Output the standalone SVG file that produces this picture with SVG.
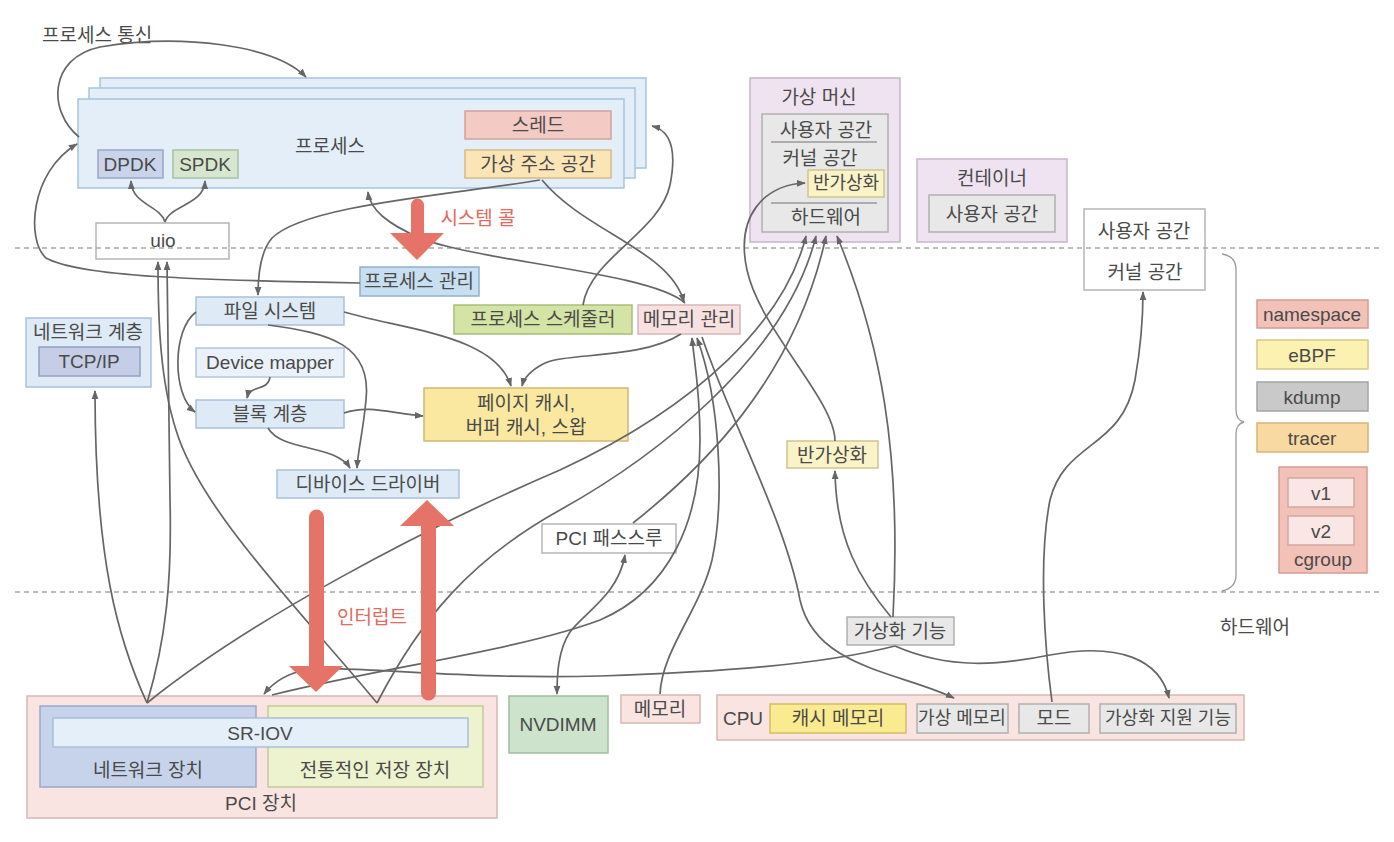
<svg xmlns="http://www.w3.org/2000/svg" width="1394" height="842" viewBox="0 0 1394 842">
<defs>
<style>
.t{font-family:"Liberation Sans","Noto Sans CJK KR",sans-serif;font-size:19px;fill:#4a4a4a;text-anchor:middle;dominant-baseline:central}
.s{font-size:18px}
.red{fill:#e57367}
rect{stroke-width:1.5}
.proc{fill:#e3eef9;stroke:#a8c4dc}
.blue{fill:#deebf7;stroke:#a9c1d8}
.blue2{fill:#c8dff1;stroke:#8fb0cc}
.lblue{fill:#eaf1f9;stroke:#b3c7da}
.pink{fill:#f9e4e1;stroke:#d6b8b3}
.grey{fill:#e8e8e8;stroke:#b0b0b0}
.purple{fill:#f0e3f1;stroke:#c9b5cc}
.white{fill:#fff;stroke:#b5b5b5}
.dash{stroke:#a8a8a8;stroke-width:1.6;stroke-dasharray:5 4;fill:none}
.c path{fill:none;stroke:#666;stroke-width:1.7;marker-end:url(#ah)}
.c path.both{marker-start:url(#ah)}
</style>
<marker id="ah" viewBox="0 0 10 10" refX="9" refY="5" markerWidth="9" markerHeight="9" orient="auto-start-reverse" markerUnits="userSpaceOnUse">
<path d="M0,1.2 L10,5 L0,8.8 z" fill="#666"/>
</marker>
</defs>
<rect width="1394" height="842" fill="#fff" stroke="none"/>

<text class="t" x="42" y="35" style="text-anchor:start">프로세스 통신</text>

<g id="process">
<rect class="proc" x="100" y="78" width="546" height="90"/>
<rect class="proc" x="89" y="88" width="546" height="90"/>
<rect class="proc" x="78" y="99" width="546" height="89"/>
<text class="t" x="330" y="146">프로세스</text>
</g>
<g id="thread"><rect x="465" y="111" width="146" height="28" fill="#f3cbc4" stroke="#cfa39c"/><text class="t" x="538" y="125">스레드</text></g>
<g id="vaddr"><rect x="465" y="150" width="146" height="28" fill="#fbe5b7" stroke="#d4bb86"/><text class="t" x="538" y="164">가상 주소 공간</text></g>
<g id="dpdk"><rect x="98" y="150" width="65" height="28" fill="#c9d3ea" stroke="#9aa7c6"/><text class="t" x="130" y="164">DPDK</text></g>
<g id="spdk"><rect x="173" y="150" width="65" height="28" fill="#d6e6cf" stroke="#a8c1a0"/><text class="t" x="205" y="164">SPDK</text></g>
<g id="uio"><rect class="white" x="96" y="223" width="133" height="36"/><text class="t" x="163" y="240">uio</text></g>

<g id="procmgmt"><rect class="blue2" x="360" y="267" width="119" height="29"/><text class="t" x="419" y="281">프로세스 관리</text></g>
<g id="fs"><rect class="blue" x="196" y="297" width="148" height="28"/><text class="t" x="270" y="311">파일 시스템</text></g>
<g id="netlayer"><rect class="blue" x="26" y="318" width="125" height="69"/><text class="t" x="88" y="332">네트워크 계층</text>
<rect x="39" y="347" width="101" height="29" fill="#c6cde6" stroke="#949fc2"/><text class="t" x="89" y="361">TCP/IP</text></g>
<g id="devmapper"><rect class="lblue" x="196" y="348" width="148" height="29"/><text class="t" x="270" y="362">Device mapper</text></g>
<g id="block"><rect class="blue" x="196" y="400" width="148" height="28"/><text class="t" x="270" y="414">블록 계층</text></g>
<g id="pagecache"><rect x="424" y="388" width="204" height="53" fill="#fbe8a0" stroke="#cdb977"/><text class="t" x="526" y="403">페이지 캐시,</text><text class="t" x="526" y="427">버퍼 캐시, 스왑</text></g>
<g id="devdriver"><rect class="blue" x="277" y="470" width="182" height="28"/><text class="t" x="368" y="484">디바이스 드라이버</text></g>
<g id="scheduler"><rect x="454" y="305" width="178" height="29" fill="#d4e4a4" stroke="#a9bd79"/><text class="t" x="543" y="319">프로세스 스케줄러</text></g>
<g id="memmgmt"><rect x="638" y="305" width="102" height="29" fill="#f8e1e1" stroke="#d6b6b6"/><text class="t" x="689" y="319">메모리 관리</text></g>
<g id="pcipass"><rect class="white" x="542" y="524" width="134" height="29"/><text class="t" x="609" y="538">PCI 패스스루</text></g>
<g id="paravirt"><rect x="787" y="441" width="91" height="27" fill="#fbf3c8" stroke="#cfc48f"/><text class="t" x="832" y="455">반가상화</text></g>
<g id="virtfeat"><rect class="grey" x="847" y="617" width="107" height="28"/><text class="t" x="900" y="631">가상화 기능</text></g>

<g id="vm">
<rect class="purple" x="750" y="78" width="150" height="164"/>
<text class="t" x="819" y="97">가상 머신</text>
<rect class="grey" x="762" y="114" width="126" height="118"/>
<text class="t" x="826" y="130">사용자 공간</text>
<line x1="771" y1="142" x2="877" y2="142" stroke="#9a9a9a" stroke-width="1.3"/>
<text class="t" x="820" y="158">커널 공간</text>
<rect x="808" y="170" width="76" height="27" fill="#fbf3c8" stroke="#cfc48f"/>
<text class="t s" x="846" y="183">반가상화</text>
<line x1="771" y1="203" x2="877" y2="203" stroke="#9a9a9a" stroke-width="1.3"/>
<text class="t" x="826" y="217">하드웨어</text>
</g>
<g id="container">
<rect class="purple" x="917" y="159" width="150" height="83"/>
<text class="t" x="992" y="178">컨테이너</text>
<rect class="grey" x="929" y="195" width="126" height="37"/>
<text class="t" x="992" y="214">사용자 공간</text>
</g>
<g id="userkernel">
<rect x="1084" y="209" width="121" height="81" fill="none" stroke="#b5b5b5"/>
<text class="t" x="1144" y="231">사용자 공간</text>
<text class="t" x="1145" y="272">커널 공간</text>
</g>

<g id="legend">
<rect x="1257" y="300" width="111" height="28" fill="#f2c2b9" stroke="#d29d94"/><text class="t" x="1312" y="314">namespace</text>
<rect x="1257" y="340" width="111" height="29" fill="#fbf1b1" stroke="#d4c88a"/><text class="t" x="1312" y="355">eBPF</text>
<rect x="1257" y="382" width="111" height="29" fill="#c9c9c9" stroke="#a4a4a4"/><text class="t" x="1312" y="397">kdump</text>
<rect x="1257" y="423" width="111" height="29" fill="#f8d9a1" stroke="#d3b57a"/><text class="t" x="1312" y="438">tracer</text>
</g>
<g id="cgroup">
<rect x="1279" y="467" width="88" height="106" fill="#f2c2b9" stroke="#d29d94"/>
<rect x="1288" y="478" width="66" height="29" fill="#f9e6e5" stroke="#cfa8a2"/><text class="t" x="1321" y="493">v1</text>
<rect x="1288" y="516" width="66" height="29" fill="#f9e6e5" stroke="#cfa8a2"/><text class="t" x="1321" y="531">v2</text>
<text class="t" x="1323" y="559">cgroup</text>
</g>

<g id="pcidev">
<rect class="pink" x="27" y="696" width="470" height="122"/>
<rect x="40" y="706" width="216" height="81" fill="#c7d3ea" stroke="#9aa9c8"/>
<rect x="268" y="706" width="215" height="81" fill="#eef3cf" stroke="#c4c99c"/>
<rect x="53" y="718" width="415" height="29" fill="#e5eff9" stroke="#a9bfd6"/>
<text class="t" x="260" y="733">SR-IOV</text>
<text class="t" x="148" y="770">네트워크 장치</text>
<text class="t" x="375" y="770">전통적인 저장 장치</text>
<text class="t" x="261" y="803">PCI 장치</text>
</g>
<g id="nvdimm"><rect x="509" y="696" width="99" height="57" fill="#cde3cc" stroke="#9fbf9d"/><text class="t" x="558" y="724">NVDIMM</text></g>
<g id="memory"><rect class="pink" x="621" y="695" width="79" height="28"/><text class="t" x="660" y="709">메모리</text></g>
<g id="cpu">
<rect class="pink" x="717" y="695" width="527" height="45"/>
<text class="t" x="743" y="718">CPU</text>
<rect x="770" y="704" width="136" height="29" fill="#fbeb90" stroke="#d0bf66"/><text class="t" x="838" y="718">캐시 메모리</text>
<rect class="grey" x="917" y="704" width="91" height="29"/><text class="t s" x="962" y="718">가상 메모리</text>
<rect class="grey" x="1019" y="704" width="70" height="29"/><text class="t" x="1054" y="718">모드</text>
<rect class="grey" x="1100" y="704" width="136" height="29"/><text class="t s" x="1168" y="718">가상화 지원 기능</text>
</g>
<text class="t" x="1255" y="627">하드웨어</text>

<g id="separators">
<line class="dash" x1="15" y1="248" x2="1382" y2="248"/>
<line class="dash" x1="15" y1="592" x2="1382" y2="592"/>
<path d="M1222,254 Q1236,256 1236,270 L1236,410 Q1236,420 1244,422 Q1236,424 1236,434 L1236,575 Q1236,588 1222,591" fill="none" stroke="#9a9a9a" stroke-width="1.3"/>
</g>

<g id="connectors" class="c">
<path d="M79,137 C48,112 48,58 100,47 C180,33 275,45 306,77"/>
<path d="M360,283 C200,280 80,277 46,258 C26,240 30,172 77,144"/>
<path d="M165,222 C160,205 132,205 131,181"/>
<path d="M165,222 C170,205 204,205 205,181"/>
<path d="M540,180 C450,195 305,205 272,238 C260,252 258,275 258,295"/>
<path d="M542,180 C585,232 670,250 684,302"/>
<path d="M685,303 C650,272 480,262 420,238 C388,224 370,210 368,192"/>
<path d="M583,305 C590,258 660,232 670,185 C678,145 668,130 652,126"/>
<path d="M196,312 C172,330 172,395 195,412"/>
<path d="M270,377 C268,392 250,384 247,398"/>
<path d="M268,325 C330,333 372,345 366,400 C363,432 358,450 357,468"/>
<path d="M268,428 C282,452 335,444 350,468"/>
<path d="M344,413 C370,404 392,414 423,416"/>
<path d="M344,312 C405,330 495,335 511,386"/>
<path d="M681,334 C640,360 565,352 543,364 C530,371 524,378 522,386"/>
<path d="M147,703 C118,640 95,560 95,391"/>
<path d="M147,703 C166,640 172,580 170,500 C168,400 167,320 167,262"/>
<path d="M377,703 C300,610 200,510 176,430 C160,380 158,320 158,262"/>
<path d="M147,703 C250,620 420,530 560,470 C700,405 785,320 806,236"/>
<path d="M377,703 C420,620 470,560 560,510 C650,460 785,360 816,236"/>
<path d="M633,523 C700,470 795,380 826,236"/>
<path d="M893,617 C902,450 880,340 837,236"/>
<path d="M891,617 C860,580 836,540 835,471"/>
<path d="M835,441 C835,400 760,330 747,270 C735,215 765,185 805,183"/>
<path class="both" d="M625,555 C618,595 585,612 570,632 C558,650 557,675 557,694"/>
<path d="M660,694 C662,650 700,610 712,560 C725,500 720,400 697,338"/>
<path d="M272,695 C380,668 520,650 600,620 C670,590 700,520 700,440 C700,390 694,360 692,338"/>
<path d="M702,337 C730,420 785,520 800,600 C815,668 900,672 954,698"/>
<path d="M895,646 C950,670 1000,665 1050,655 C1120,642 1160,660 1169,698"/>
<path d="M895,646 C820,665 720,672 600,676 C450,680 345,664 305,670 C285,674 272,684 264,694"/>
<path d="M1052,702 C1045,650 1038,560 1050,500 C1065,440 1122,450 1135,380 C1142,340 1143,310 1143,292"/>
</g>

<g id="syscall">
<path class="red" d="M411,234 L411,205 A6.5,6.5 0 0 1 424,205 L424,234 Z"/>
<polygon class="red" points="390,233 444,233 417,260"/>
<text class="t" x="478" y="218" style="fill:#e06a5e">시스템 콜</text>
</g>
<g id="interrupt">
<path class="red" d="M309,668 L309,517 A7.5,7.5 0 0 1 324,517 L324,668 Z"/>
<polygon class="red" points="289,666 343,666 316,692"/>
<path class="red" d="M421,525 L421,693 A7.5,7.5 0 0 0 436,693 L436,525 Z"/>
<polygon class="red" points="400,526 454,526 427,500"/>
<text class="t" x="372" y="617" style="fill:#e06a5e">인터럽트</text>
</g>
</svg>
